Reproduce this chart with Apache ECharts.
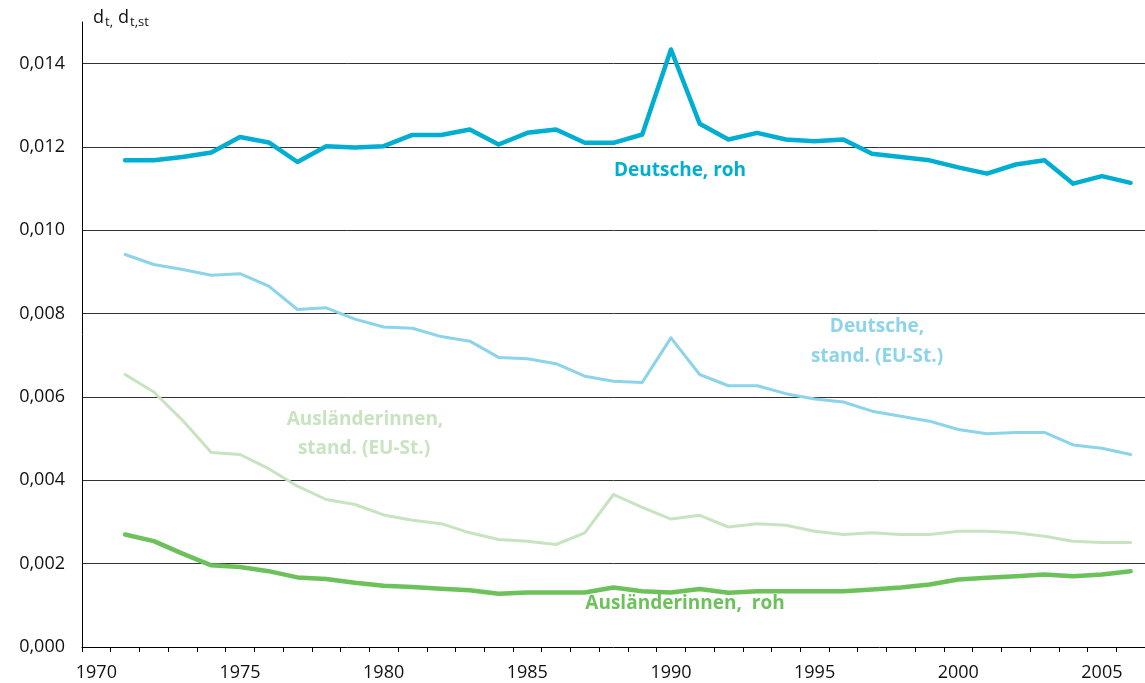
<!DOCTYPE html>
<html>
<head>
<meta charset="utf-8">
<script src="https://cdn.jsdelivr.net/npm/echarts@6/dist/echarts.min.js"></script>
<style>
html,body{margin:0;padding:0;background:#fff;}
#chart{width:1145px;height:683px;}
</style>
</head>
<body>
<div id="chart"></div>
<script>
// Years (category bands), data start in 1971
const years = [];
for (let y = 1970; y <= 2006; y++) years.push(String(y));

// Deutsche, roh (1971-2006)
const deutscheRoh = [0.01168,0.01168,0.01176,0.01187,0.01224,0.01211,0.01164,0.01202,0.01199,0.01202,
  0.01229,0.01229,0.01242,0.01206,0.01234,0.01242,0.01210,0.01210,0.01230,0.01434,
  0.01256,0.01218,0.01234,0.01218,0.01214,0.01218,0.01184,0.01176,0.01168,0.01151,
  0.01136,0.01158,0.01168,0.01112,0.01130,0.01114];
// Deutsche, stand. (EU-St.)
const deutscheStand = [0.00942,0.00918,0.00906,0.00892,0.00896,0.00866,0.00810,0.00814,0.00787,0.00768,
  0.00765,0.00745,0.00734,0.00695,0.00692,0.00680,0.00650,0.00638,0.00635,0.00742,
  0.00654,0.00627,0.00627,0.00608,0.00595,0.00588,0.00566,0.00554,0.00542,0.00522,
  0.00512,0.00515,0.00515,0.00485,0.00477,0.00462];
// Ausländerinnen, stand. (EU-St.)
const auslStand = [0.00654,0.00612,0.00544,0.00467,0.00462,0.00428,0.00386,0.00354,0.00342,0.00317,
  0.00304,0.00296,0.00274,0.00258,0.00254,0.00246,0.00274,0.00366,0.00335,0.00307,
  0.00316,0.00288,0.00296,0.00292,0.00278,0.00270,0.00274,0.00270,0.00270,0.00278,
  0.00278,0.00274,0.00266,0.00254,0.00251,0.00251];
// Ausländerinnen, roh
const auslRoh = [0.00270,0.00254,0.00224,0.00196,0.00192,0.00182,0.00167,0.00163,0.00154,0.00147,
  0.00144,0.00140,0.00136,0.00128,0.00131,0.00131,0.00131,0.00143,0.00134,0.00131,
  0.00139,0.00130,0.00134,0.00134,0.00134,0.00134,0.00138,0.00143,0.00150,0.00162,
  0.00166,0.00170,0.00174,0.00170,0.00174,0.00182];

const pad = arr => [null].concat(arr);

const FONT = '"Open Sans", "Noto Sans", sans-serif';
const cDR = '#00aed2', cDS = '#8bd4ea', cAS = '#c8e3c0', cAR = '#6cc15b';

const chart = echarts.init(document.getElementById('chart'), null, {renderer: 'canvas'});

function lineSeries(name, data, color, width) {
  return {
    name: name, type: 'line', data: pad(data), symbol: 'none',
    lineStyle: {color: color, width: width, cap: 'round', join: 'round'},
    itemStyle: {color: color}, connectNulls: false, animation: false, z: 3
  };
}

chart.setOption({
  animation: false,
  backgroundColor: '#fff',
  grid: {left: 82, right: 0, top: 22, bottom: 36, containLabel: false},
  xAxis: {
    type: 'category', data: years, boundaryGap: true,
    axisLine: {show: true, lineStyle: {color: '#000', width: 1}},
    axisTick: {show: true, interval: 0, length: 5, inside: false, lineStyle: {color: '#000', width: 1}},
    axisLabel: {
      interval: (i, v) => (Number(v) % 5 === 0),
      color: '#111', fontFamily: FONT, fontSize: 18, margin: 17
    },
    splitLine: {show: false}
  },
  yAxis: {
    type: 'value', min: 0, max: 0.015, interval: 0.002,
    axisLine: {show: true, lineStyle: {color: '#000', width: 1}},
    axisTick: {show: false},
    axisLabel: {
      showMaxLabel: false,
      formatter: v => v.toFixed(3).replace('.', ','),
      color: '#111', fontFamily: FONT, fontSize: 18, margin: 17
    },
    splitLine: {show: true, showMaxLine: false, showMinLine: false, lineStyle: {color: '#333', width: 1}}
  },
  series: [
    lineSeries('Ausländerinnen, stand. (EU-St.)', auslStand, cAS, 3),
    lineSeries('Deutsche, stand. (EU-St.)', deutscheStand, cDS, 3),
    lineSeries('Ausländerinnen, roh', auslRoh, cAR, 4.5),
    lineSeries('Deutsche, roh', deutscheRoh, cDR, 4.5)
  ],
  graphic: [
    {type: 'text', left: 93, top: 9, style: {text: 'd', fill: '#111', font: '18px ' + FONT}},
    {type: 'text', left: 105, top: 16, style: {text: 't,', fill: '#111', font: '13px ' + FONT}},
    {type: 'text', left: 118, top: 9, style: {text: 'd', fill: '#111', font: '18px ' + FONT}},
    {type: 'text', left: 130, top: 16, style: {text: 't,st', fill: '#111', font: '13px ' + FONT}},
    {type: 'text', x: 680, y: 171, style: {text: 'Deutsche, roh', fill: cDR, font: 'bold 19px ' + FONT, align: 'center', verticalAlign: 'middle'}},
    {type: 'text', x: 877, y: 327, style: {text: 'Deutsche,', fill: cDS, font: 'bold 19px ' + FONT, align: 'center', verticalAlign: 'middle'}},
    {type: 'text', x: 877, y: 357, style: {text: 'stand. (EU-St.)', fill: cDS, font: 'bold 19px ' + FONT, align: 'center', verticalAlign: 'middle'}},
    {type: 'text', x: 365, y: 420, style: {text: 'Ausländerinnen,', fill: cAS, font: 'bold 19px ' + FONT, align: 'center', verticalAlign: 'middle'}},
    {type: 'text', x: 364, y: 449, style: {text: 'stand. (EU-St.)', fill: cAS, font: 'bold 19px ' + FONT, align: 'center', verticalAlign: 'middle'}},
    {type: 'text', x: 685, y: 604, style: {text: 'Ausländerinnen,  roh', fill: cAR, font: 'bold 19px ' + FONT, align: 'center', verticalAlign: 'middle'}}
  ]
});
</script>
</body>
</html>
